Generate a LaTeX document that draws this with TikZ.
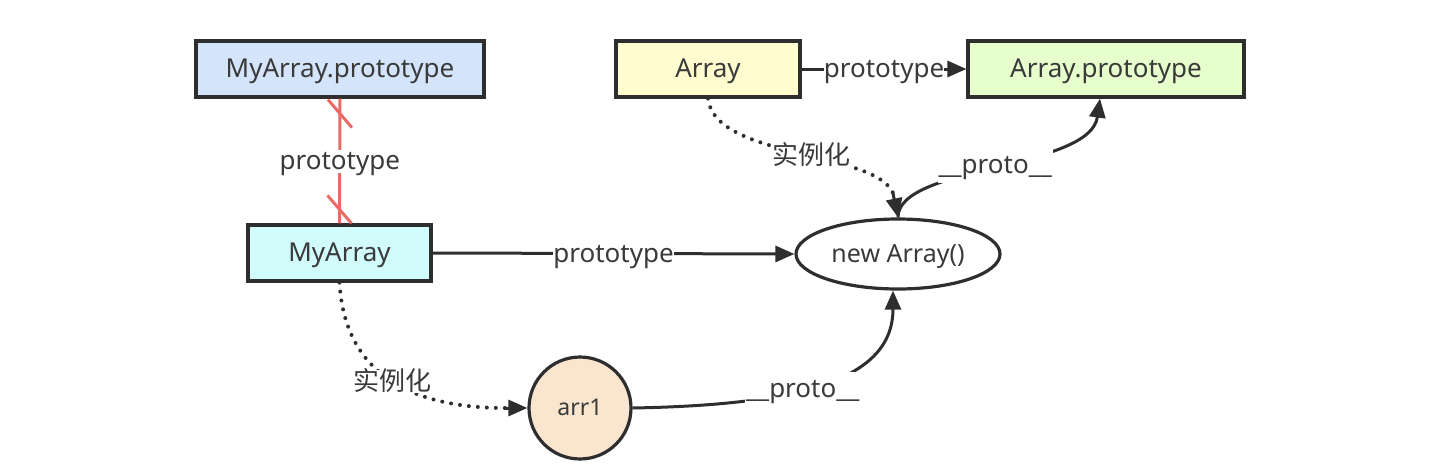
\documentclass[tikz,border=0pt]{standalone}
\usepackage{fontspec}
\setmainfont{Noto Sans}
\newfontfamily\cjk{Noto Sans CJK SC}
\usetikzlibrary{arrows.meta,shapes.geometric,calc}
\definecolor{txt}{HTML}{3A3A3A}
\definecolor{ln}{HTML}{2E2E2E}
\definecolor{redln}{HTML}{EA6B66}
\definecolor{fblue}{HTML}{D4E5FB}
\definecolor{fyellow}{HTML}{FFFCCF}
\definecolor{fgreen}{HTML}{E6FFCC}
\definecolor{fcyan}{HTML}{D2FBFC}
\definecolor{fpeach}{HTML}{FAE5CE}
\begin{document}
\begin{tikzpicture}[x=1pt,y=-1pt,
  every node/.style={text=txt,font=\fontsize{26}{30}\selectfont,text height=19pt,text depth=2pt},
  box/.style={draw=ln,line width=3.2pt,rectangle,minimum height=56pt,inner sep=0pt},
  conn/.style={draw=ln,line width=3pt},
  dotln/.style={draw=ln,line width=4pt,line cap=round,dash pattern=on 0pt off 9pt},
  tip/.style={-{Triangle[length=19pt,width=16pt]}},
  lbl/.style={fill=white,inner sep=1pt},
  protolbl/.style={fill=white,inner sep=1pt,text height=25pt,text depth=8pt},
  redconn/.style={draw=redln,line width=3pt}]
\useasboundingbox (0,0) rectangle (1432,474);
\node[box,fill=fblue,minimum width=288pt] (mp) at (340,69) {MyArray.prototype};
\node[box,fill=fyellow,minimum width=184pt] (arr) at (708,69) {Array};
\node[box,fill=fgreen,minimum width=276pt] (ap) at (1106,69) {Array.prototype};
\node[box,fill=fcyan,minimum width=183pt] (my) at (339.5,253) {MyArray};
\node[draw=ln,line width=3.2pt,ellipse,minimum width=204pt,minimum height=70pt,inner sep=0pt,fill=white,font=\fontsize{25}{29}\selectfont] (na) at (898,254) {new Array()};
\node[draw=ln,line width=3.2pt,circle,minimum size=102pt,inner sep=0pt,fill=fpeach,font=\fontsize{23}{27}\selectfont,text height=17pt,text depth=2pt] (a1) at (580,408) {arr1};

% red prototype link
\draw[redconn] (mp.south) -- node[lbl] {prototype} (my.north);
\draw[redconn] ($(mp.south)+(-12,1)$) -- ++(24,28);
\draw[redconn] ($(my.north)+(-12,-28)$) -- ++(24,28);

% Array -> Array.prototype
\draw[conn,tip] (arr.east) -- node[lbl,inner sep=0pt] {prototype} (ap.west);

% MyArray -> new Array()
\draw[conn,tip] (my.east) -- node[lbl,inner sep=0pt] {prototype} (na.west);

% Array instantiates new Array()
\draw[dotln] (arr.south) .. controls (715,160) and (880,150) .. ($(na.north)+(-4,-22)$)
  node[pos=0.55,lbl,font=\cjk\fontsize{26}{30}\selectfont] {实例化};
\draw[conn,tip] ($(na.north)+(-5,-24)$) -- (na.north);

% new Array() __proto__ -> Array.prototype
\draw[conn,tip] (na.north) .. controls (898,165) and (1090,170) .. ($(ap.south)+(-6,0)$)
  node[pos=0.5,protolbl] {\_\_proto\_\_};

% MyArray instantiates arr1
\draw[dotln] (my.south) .. controls (345,380) and (420,408) .. ($(a1.west)+(-22,0)$)
  node[pos=0.5,lbl,font=\cjk\fontsize{26}{30}\selectfont] {实例化};
\draw[conn,tip] ($(a1.west)+(-22,0)$) -- (a1.west);

% arr1 __proto__ -> new Array()
\draw[conn,tip] (a1.east) .. controls (800,405) and (893,380) .. ($(na.south)+(-5,0)$)
  node[pos=0.42,protolbl] {\_\_proto\_\_};
\end{tikzpicture}
\end{document}
